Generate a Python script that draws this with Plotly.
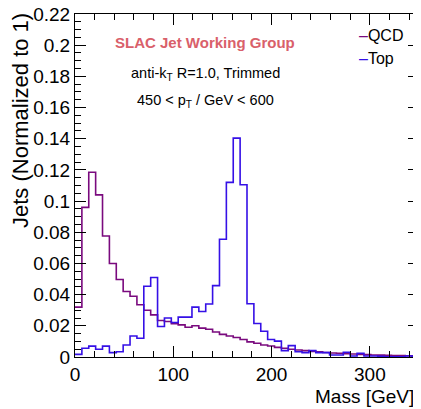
import numpy as np
import plotly.graph_objects as go

bin_width = 7
qcd = [0.032, 0.096, 0.1185, 0.104, 0.0776, 0.060, 0.0497, 0.042, 0.039, 0.0335,
       0.030, 0.027, 0.0234, 0.0228, 0.0213, 0.0206, 0.0191, 0.020, 0.0185, 0.0178,
       0.0160, 0.0145, 0.0135, 0.0125, 0.0112, 0.0097, 0.0088, 0.0077, 0.0071, 0.0062,
       0.0056, 0.0050, 0.0045, 0.0041, 0.0036, 0.0033, 0.0029, 0.0026, 0.0024, 0.0021,
       0.0019, 0.0017, 0.0015, 0.0013, 0.0012, 0.0011, 0.0010, 0.0009, 0.0008, 0.0007]
top = [0.0017, 0.0056, 0.0070, 0.0050, 0.0070, 0.0028, 0.0034, 0.0077, 0.0135, 0.0120,
       0.0454, 0.0510, 0.0196, 0.0250, 0.0221, 0.0256, 0.0256, 0.0320, 0.0292, 0.0340,
       0.0458, 0.0755, 0.1120, 0.1404, 0.1105, 0.0342, 0.0215, 0.0165, 0.0112, 0.0102,
       0.0041, 0.0073, 0.0034, 0.0028, 0.0041, 0.0028, 0.0028, 0.0013, 0.0013, 0.0030,
       0.0006, 0.0024, 0.0006, 0.0006, 0.0004, 0.0002, 0.0002, 0.0002, 0.0006, 0.0003]
x_ticks = [0, 100, 200, 300]
y_ticks = [0, 0.02, 0.04, 0.06, 0.08, 0.1, 0.12, 0.14, 0.16, 0.18, 0.2, 0.22]

edges = np.arange(len(qcd) + 1) * bin_width

QCD_COLOR = "#7a0a7e"
TOP_COLOR = "#3510e6"
FONT = "Liberation Sans, Arial, sans-serif"

fig = go.Figure()
fig.add_trace(go.Scatter(x=edges, y=list(qcd) + [qcd[-1]], mode="lines",
                         line=dict(shape="hv", color=QCD_COLOR, width=1.6),
                         name="QCD", showlegend=False))
fig.add_trace(go.Scatter(x=edges, y=list(top) + [top[-1]], mode="lines",
                         line=dict(shape="hv", color=TOP_COLOR, width=1.6),
                         name="Top", showlegend=False))

axis_common = dict(
    showline=True, linecolor="black", linewidth=1, mirror="allticks",
    ticks="inside", ticklen=11, tickwidth=1, tickcolor="black",
    showgrid=False, zeroline=False, ticklabeloverflow="allow", automargin=False,
    tickfont=dict(family=FONT, size=19, color="black"),
)
fig.update_xaxes(range=[0, 350], tickvals=x_ticks,
                 minor=dict(dtick=20, ticks="inside", ticklen=6, tickcolor="black", showgrid=False),
                 **axis_common)
fig.update_yaxes(range=[0, 0.22], tickvals=y_ticks,
                 ticktext=[str(v) for v in y_ticks],
                 minor=dict(dtick=0.005, ticks="inside", ticklen=6, tickcolor="black", showgrid=False),
                 **axis_common)

annotations = [
    dict(text="Jets (Normalized to 1)", textangle=-90, xref="paper", yref="paper",
         x=-0.16, y=1.01, xanchor="center", yanchor="top", showarrow=False,
         font=dict(family=FONT, size=22, color="black")),
    dict(text="Mass [GeV]", xref="paper", yref="paper", x=0.99, y=-0.115,
         xanchor="right", yanchor="middle", showarrow=False,
         font=dict(family=FONT, size=19, color="black")),
    dict(text="<b>SLAC Jet Working Group</b>", xref="paper", yref="paper",
         x=0.378, y=0.918, xanchor="center", yanchor="middle", showarrow=False,
         font=dict(family=FONT, size=15, color="#d9606a")),
    dict(text="anti-k<sub>T</sub> R=1.0, Trimmed", xref="paper", yref="paper",
         x=0.378, y=0.826, xanchor="center", yanchor="middle", showarrow=False,
         font=dict(family=FONT, size=14.5, color="black")),
    dict(text="450 &lt; p<sub>T</sub> / GeV &lt; 600", xref="paper", yref="paper",
         x=0.378, y=0.745, xanchor="center", yanchor="middle", showarrow=False,
         font=dict(family=FONT, size=14.5, color="black")),
    dict(text=f"<span style='color:{QCD_COLOR}'>–</span>QCD", xref="paper", yref="paper",
         x=0.82, y=0.936, xanchor="left", yanchor="middle", showarrow=False,
         font=dict(family=FONT, size=16, color="black")),
    dict(text=f"<span style='color:{TOP_COLOR}'>–</span>Top", xref="paper", yref="paper",
         x=0.82, y=0.869, xanchor="left", yanchor="middle", showarrow=False,
         font=dict(family=FONT, size=16, color="black")),
]

# The page adds an 8px body margin, so the figure is offset by 8px on the page.
fig.update_layout(
    width=421, height=409,
    margin=dict(l=67, r=10, t=6, b=60),
    paper_bgcolor="white", plot_bgcolor="white",
    annotations=annotations,
    showlegend=False,
)

fig.write_html("out.html")
